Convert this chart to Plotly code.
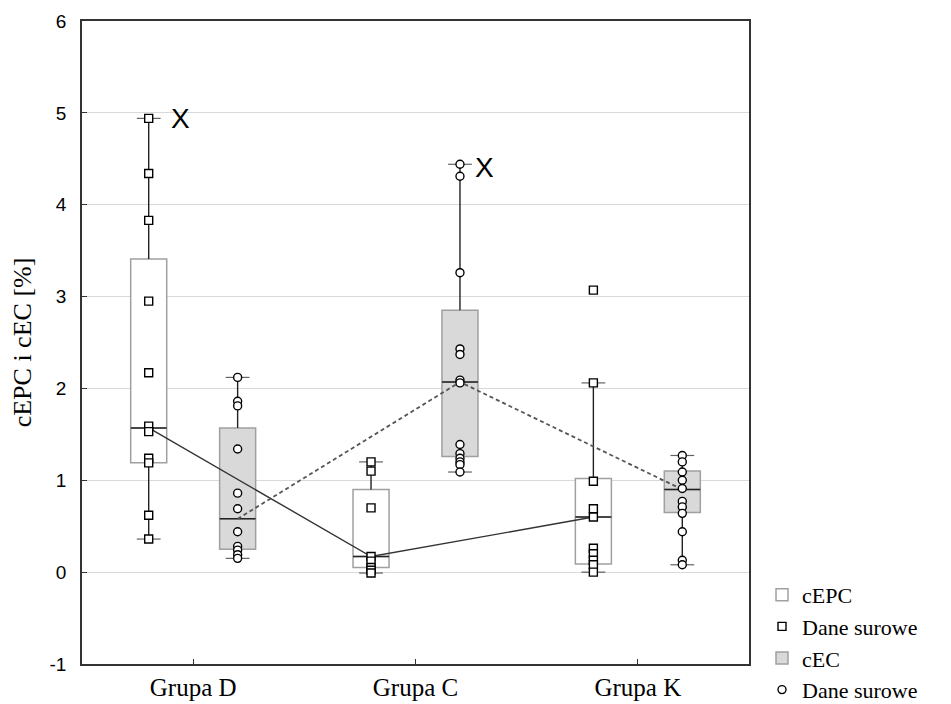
import plotly.graph_objects as go

# ---------------- data ----------------
groups = ["Grupa D", "Grupa C", "Grupa K"]

# raw data (Dane surowe)
cepc_raw = [
    [4.94, 4.34, 3.83, 2.95, 2.17, 1.59, 1.53, 1.24, 1.19, 0.62, 0.36],
    [1.20, 1.10, 0.70, 0.17, 0.12, 0.05, 0.02, -0.01],
    [3.07, 2.06, 0.99, 0.69, 0.60, 0.26, 0.20, 0.13, 0.08, 0.00],
]
cec_raw = [
    [2.12, 1.86, 1.81, 1.34, 0.86, 0.69, 0.44, 0.28, 0.24, 0.19, 0.15],
    [4.44, 4.31, 3.26, 2.43, 2.37, 2.09, 2.06, 1.39, 1.29, 1.24, 1.20, 1.17, 1.09],
    [1.27, 1.20, 1.09, 1.00, 0.91, 0.77, 0.71, 0.64, 0.44, 0.13, 0.08],
]

# box statistics: min, q1, median, q3, max
cepc_min = [0.36, -0.01, 0.00]
cepc_q1 = [1.19, 0.05, 0.09]
cepc_med = [1.57, 0.17, 0.60]
cepc_q3 = [3.41, 0.90, 1.02]
cepc_max = [4.94, 1.20, 2.06]

cec_min = [0.15, 1.09, 0.08]
cec_q1 = [0.25, 1.26, 0.65]
cec_med = [0.58, 2.07, 0.90]
cec_q3 = [1.57, 2.85, 1.10]
cec_max = [2.12, 4.44, 1.27]

# extreme values marked with "X": (series, group index)
x_marks = [("cEPC", 0), ("cEC", 1)]

y_ticks = [-1, 0, 1, 2, 3, 4, 5, 6]
y_tick_labels = ["-1", "0", "1", "2", "3", "4", "5", "6"]

# ---------------- styling ----------------
OFF = 0.2
BW = 0.162
SERIF = "Liberation Serif, Times New Roman, serif"
SANS = "Liberation Sans, Arial, sans-serif"

series = [
    dict(name="cEPC", off=-OFF, fill="white", raw=cepc_raw, mn=cepc_min, q1=cepc_q1,
         med=cepc_med, q3=cepc_q3, mx=cepc_max, sym="square", rank=1,
         line=dict(color="#333333", width=1.4)),
    dict(name="cEC", off=OFF, fill="#d9d9d9", raw=cec_raw, mn=cec_min, q1=cec_q1,
         med=cec_med, q3=cec_q3, mx=cec_max, sym="circle", rank=3,
         line=dict(color="#555555", width=1.8, dash="4px,3px")),
]

fig = go.Figure()
for s in series:
    xs = [i + s["off"] for i in range(len(groups))]
    # box (outline + fill)
    fig.add_trace(go.Box(
        x=xs, q1=s["q1"], median=s["med"], q3=s["q3"],
        lowerfence=s["q1"], upperfence=s["q3"],
        width=BW, fillcolor=s["fill"], line=dict(color="#a0a0a0", width=1.5),
        whiskerwidth=0, boxpoints=False, name=s["name"], showlegend=True,
        legendrank=s["rank"], hoverinfo="skip",
    ))
    # whiskers + median
    for i, x in enumerate(xs):
        for lo, hi in ((s["q3"][i], s["mx"][i]), (s["q1"][i], s["mn"][i])):
            fig.add_trace(go.Scatter(
                x=[x, x], y=[lo, hi], mode="lines+markers",
                line=dict(color="#222222", width=1.4),
                marker=dict(symbol="line-ew", size=[0, 17], line=dict(color="#222222", width=1.2)),
                showlegend=False, hoverinfo="skip"))
        fig.add_trace(go.Scatter(
            x=[x - BW / 2, x + BW / 2], y=[s["med"][i], s["med"][i]], mode="lines",
            line=dict(color="#222222", width=1.5), showlegend=False, hoverinfo="skip"))
    # connecting line of medians
    fig.add_trace(go.Scatter(x=xs, y=s["med"], mode="lines", line=s["line"],
                             showlegend=False, hoverinfo="skip"))
    s["xs"] = xs

for s in series:
    px, py = [], []
    for i, vals in enumerate(s["raw"]):
        px += [s["xs"][i]] * len(vals)
        py += vals
    fig.add_trace(go.Scatter(
        x=px, y=py, mode="markers", name="Dane surowe",
        marker=dict(symbol=s["sym"], size=8, color="white", line=dict(color="black", width=1.4)),
        legendrank=s["rank"] + 1, showlegend=True, hoverinfo="skip",
    ))

shifts = [32, 25]
yshifts = [0, -3]
for k, (sname, gi) in enumerate(x_marks):
    s = series[0] if sname == "cEPC" else series[1]
    fig.add_annotation(x=s["xs"][gi], y=s["mx"][gi], text="X", showarrow=False,
                       xshift=shifts[k], yshift=yshifts[k],
                       font=dict(family=SANS, size=28, color="black"))

fig.update_layout(
    width=951, height=704,
    margin=dict(l=82, r=202, t=21, b=40, autoexpand=False),
    paper_bgcolor="white", plot_bgcolor="white",
    legend=dict(x=1.0195, y=0.14, xanchor="left", yanchor="top",
                font=dict(family=SERIF, size=22, color="black"),
                bgcolor="rgba(0,0,0,0)", tracegroupgap=0),
    boxmode="overlay",
)
fig.update_xaxes(
    range=[-0.5, 2.5], tickvals=[0, 1, 2], ticktext=groups, automargin=False,
    showgrid=False, zeroline=False, showline=True, mirror=True,
    linecolor="#333333", linewidth=1.5, ticks="inside", ticklen=5, tickcolor="#333333",
    tickfont=dict(family=SERIF, size=25, color="black"),
)
fig.update_yaxes(
    range=[-1, 6], tickvals=y_ticks, ticktext=y_tick_labels,
    showgrid=True, gridcolor="#d9d9d9", gridwidth=1,
    zeroline=False, showline=True, mirror=True, linecolor="#333333", linewidth=1.5,
    ticks="inside", ticklen=5, tickcolor="#333333", automargin=False,
    tickfont=dict(family=SANS, size=19, color="black"), ticklabelstandoff=10,
    title=dict(text="cEPC i cEC [%]", font=dict(family=SERIF, size=26, color="black"), standoff=10),
)

fig.write_html("out.html")
